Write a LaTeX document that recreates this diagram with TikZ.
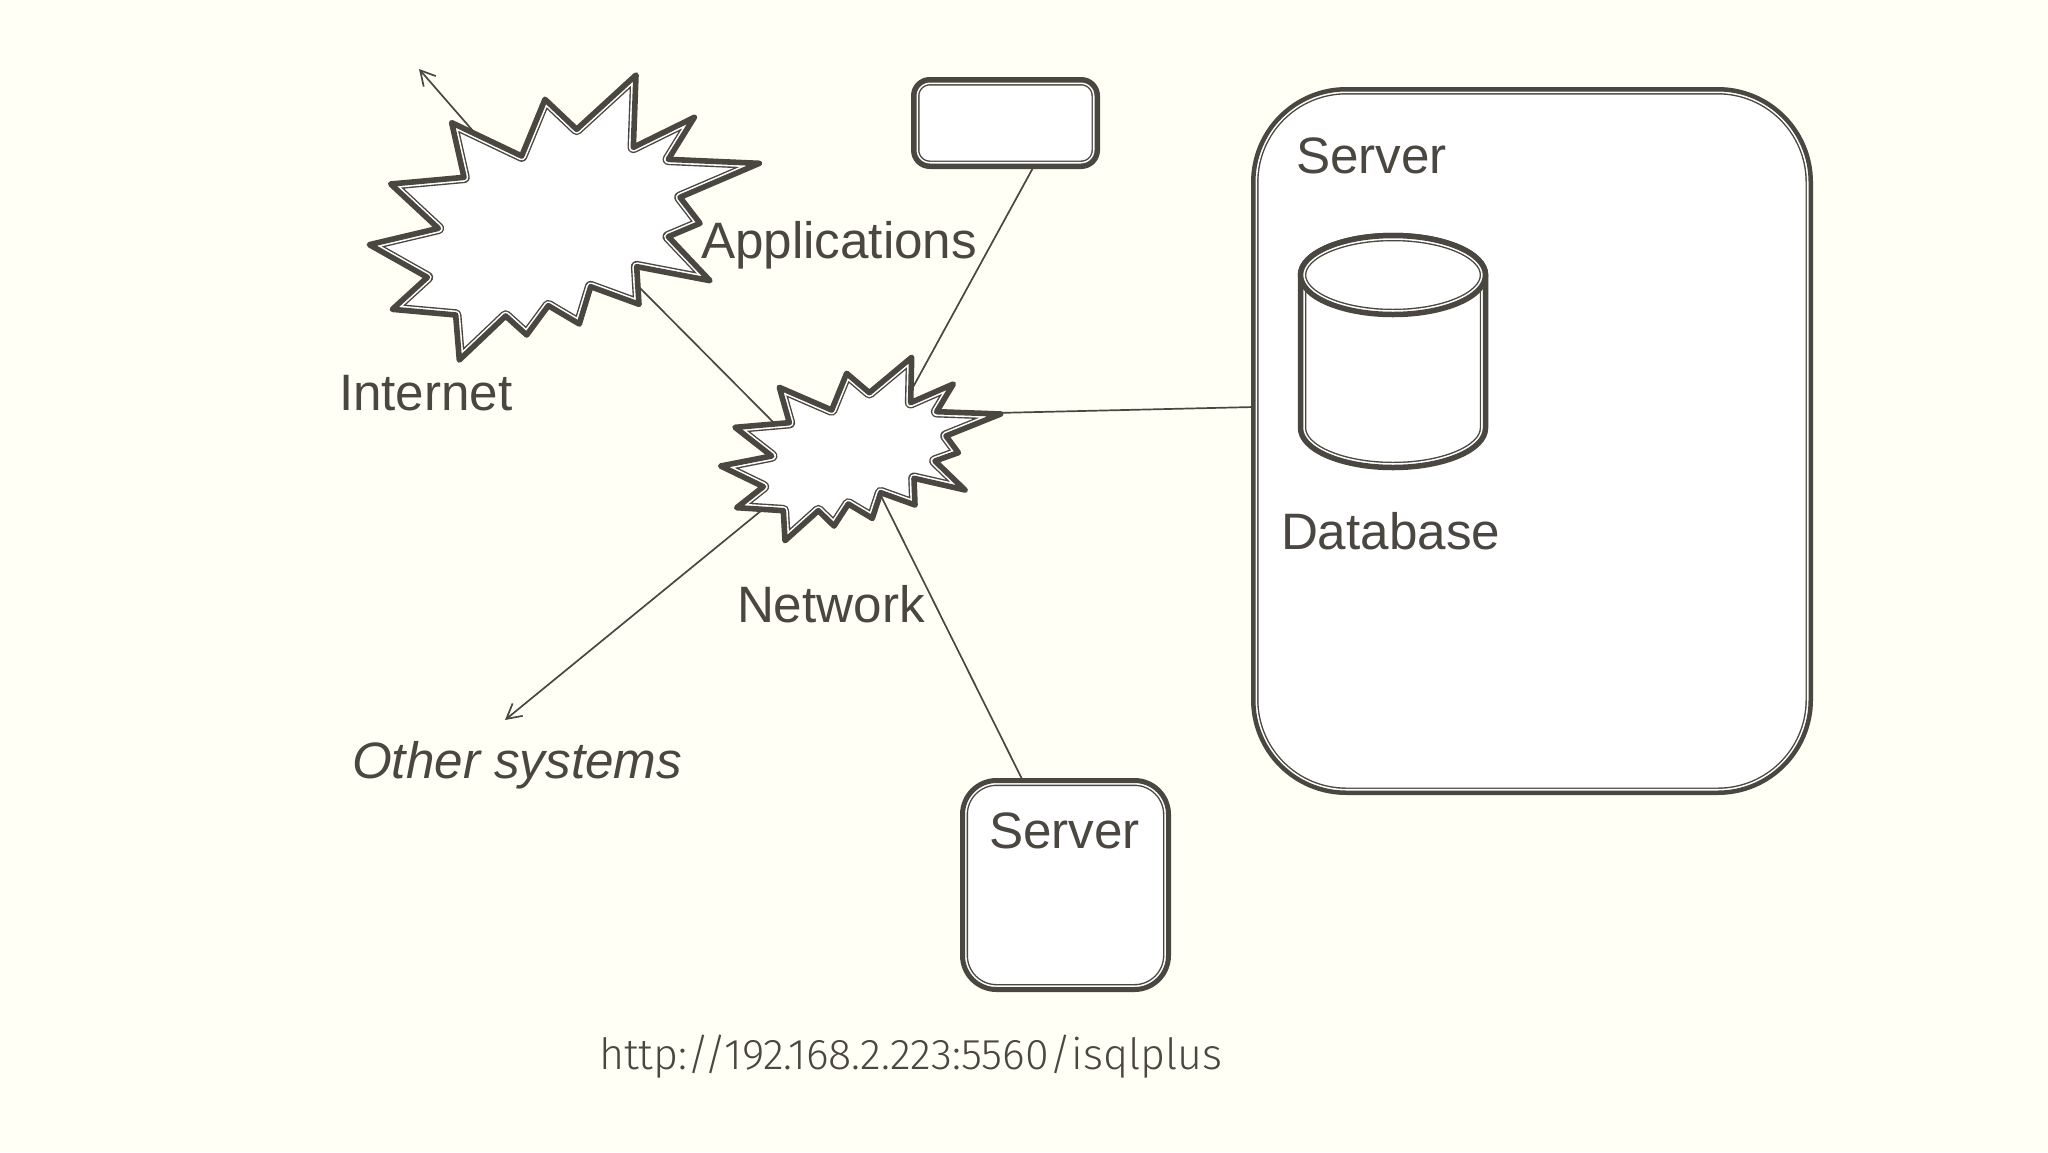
\documentclass[tikz,border=0pt]{standalone}
\usepackage{fontspec}
\setmainfont{Liberation Sans}
\newfontfamily\urlfont{Fira Sans Light}
\usetikzlibrary{calc,arrows.meta}
\definecolor{ink}{HTML}{4A4640}
\definecolor{bg}{HTML}{FFFFF6}
\newcommand{\dblpath}[2]{%
  \fill[white] #2;
  \begin{scope}
    \clip #2;
    \draw[ink,line width=#1*0.5pt+3pt,line join=round] #2;
    \draw[white,line width=#1*0.5pt+1.6pt,line join=round] #2;
  \end{scope}
  \draw[ink,line width=#1*0.5pt,line join=round] #2;
}
\newcommand{\dblbox}[7]{%
  \node[anchor=center,inner sep=0pt,outer sep=0pt,minimum width={(#4-#2)*0.5pt},minimum height={(#5-#3)*0.5pt}]
    (#1) at ({(#2+#4)/2},{(#3+#5)/2}) {};
  \dblpath{#7}{[rounded corners=#6*0.5pt] ($(#1.north west)+(#7/2,#7/2)$) rectangle ($(#1.south east)-(#7/2,#7/2)$)}
}
\def\burstA{(335,248) -- (545,348) -- (615,178) -- (710,268) -- (888,105) -- (880,322) -- (1063,232) -- (985,358) -- (1258,370) -- (1020,472) -- (1080,550) -- (985,590) -- (1110,722) -- (890,680) -- (897,793) -- (752,740) -- (718,852) -- (625,797) -- (560,885) -- (497,828) -- (358,960) -- (347,825) -- (157,808) -- (262,712) -- (88,614) -- (295,565) -- (152,432) -- (372,412) -- cycle}
\def\burstB{(268,172) -- (425,240) -- (470,130) -- (538,188) -- (665,82) -- (662,218) -- (790,162) -- (740,245) -- (932,252) -- (768,318) -- (805,368) -- (735,393) -- (825,480) -- (672,445) -- (675,525) -- (572,488) -- (547,565) -- (475,522) -- (432,588) -- (385,542) -- (285,632) -- (280,542) -- (140,533) -- (220,470) -- (92,408) -- (245,378) -- (135,292) -- (298,278) -- cycle}
\tikzset{
  conn/.style={ink,line width=0.85pt},
  arr/.style={conn,-{Straight Barb[length=7.3pt,width=8pt,line width=0.85pt]}},
  lbl/.style={anchor=base west,inner sep=0pt,outer sep=0pt,text=ink,font=\fontsize{25.6pt}{30pt}\selectfont},
}
\begin{document}
\begin{tikzpicture}[x=0.5pt,y=-0.5pt]
\useasboundingbox (0,0) rectangle (2048,1152);
\fill[bg] (0,0) rectangle (2048,1152);
% ports
\coordinate (inetNW) at (480,139);
\coordinate (inetFree) at (419,69);
\coordinate (inetSE) at (636,284);
\coordinate (netNW) at (776,425);
\coordinate (netNE) at (912,389);
\coordinate (netE) at (995,413);
\coordinate (netS) at (880,494);
\coordinate (netSW) at (762,510);
\coordinate (othersFree) at (505,720);
\coordinate (appPort) at (1034,166);
\coordinate (bigPort) at (1254,407);
\coordinate (smallPort) at (1023,781);
% connectors
\draw[arr] (inetNW) -- (inetFree);
\draw[conn] (inetSE) -- (netNW);
\draw[conn] (netNE) -- (appPort);
\draw[conn] (netE) -- (bigPort);
\draw[conn] (netS) -- (smallPort);
\draw[arr] (netSW) -- (othersFree);
% shapes
\begin{scope}[shift={(340,40)},scale=0.33333]
  \dblpath{5.6}{\burstA}
\end{scope}
\begin{scope}[shift={(690,330)},scale=0.33333]
  \dblpath{5.6}{\burstB}
\end{scope}
\dblbox{appbox}{911}{77}{1100}{169}{16}{5.5}
\dblbox{bigserver}{1251}{87}{1813}{795}{93}{4.5}
\dblbox{smallserver}{960}{778}{1171}{992}{34}{5}
\dblpath{5.5}{(1300.5,275) arc[start angle=180,end angle=0,x radius=46.25pt,y radius=19.75pt] -- (1485.5,428) arc[start angle=0,end angle=-180,x radius=46.25pt,y radius=19.75pt] -- cycle}
\dblpath{5.5}{(1393,275) ellipse [x radius=46.25pt,y radius=19.75pt]}
% labels
\node[lbl] (tInternet) at (339,410) {Internet};
\node[lbl] (tApplications) at (701,258) {Applications};
\node[lbl] (tNetwork) at (737,622) {Network};
\node[lbl,font=\fontsize{25.6pt}{30pt}\selectfont\itshape] (tOther) at (352,778) {Other systems};
\node[lbl] (tServerA) at (1296,173) {Server};
\node[lbl] (tDatabase) at (1281,549) {Database};
\node[lbl] (tServerB) at (989,848) {Server};
\node[lbl,font=\fontsize{21.5pt}{26pt}\urlfont] (tUrl) at (599,1069) {http://192.168.2.223:5560/isqlplus};
\end{tikzpicture}
\end{document}
